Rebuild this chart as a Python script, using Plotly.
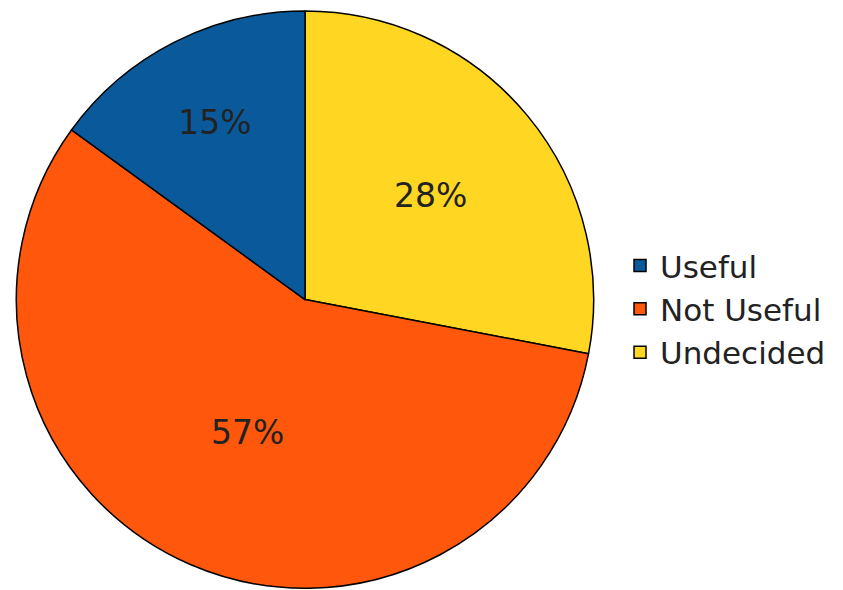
import plotly.graph_objects as go

labels = ["Useful", "Not Useful", "Undecided"]
values = [15, 57, 28]
colors = ["#0a5a9b", "#ff580d", "#ffd722"]

# drawn clockwise from 12 o'clock in reverse order, legend reversed back
fig = go.Figure(go.Pie(
    labels=labels[::-1],
    values=values[::-1],
    sort=False,
    direction="clockwise",
    rotation=0,
    marker=dict(colors=colors[::-1], line=dict(color="black", width=1.5)),
    texttemplate="%{percent:.0%}",
    textposition="inside",
    insidetextorientation="horizontal",
    textfont=dict(family="DejaVu Sans", size=33, color="#222222"),
    domain=dict(x=[2/843, 592/843], y=[0.0165, 0.995]),
    hoverinfo="none",
))

fig.update_layout(
    width=843, height=590,
    margin=dict(l=0, r=0, t=0, b=0),
    paper_bgcolor="white",
    plot_bgcolor="white",
    showlegend=True,
    legend=dict(
        x=0.726, y=0.49, xanchor="left", yanchor="middle",
        font=dict(family="DejaVu Sans", size=31, color="#222222"),
        traceorder="reversed",
        itemwidth=30,
    ),
)

fig.write_html("out.html")
